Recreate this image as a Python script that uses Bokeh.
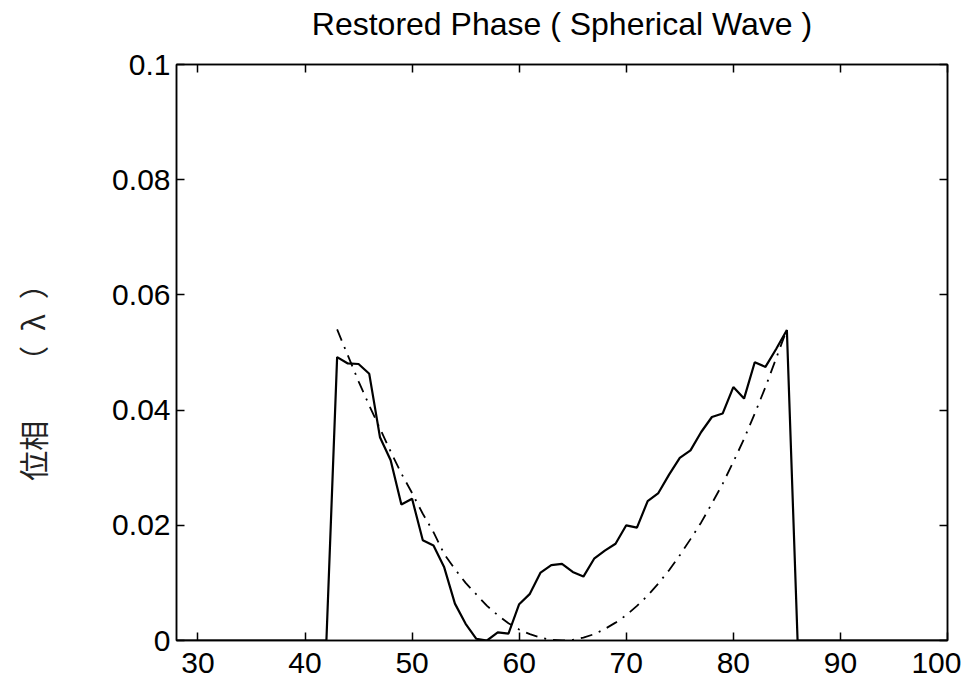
from bokeh.plotting import figure
from bokeh.models import Range1d, LinearAxis, FixedTicker
from bokeh.embed import file_html
from bokeh.resources import INLINE

# ---- data ----
x_ticks = [30, 40, 50, 60, 70, 80, 90, 100]
y_ticks = [0, 0.02, 0.04, 0.06, 0.08, 0.1]
y_tick_labels = ["0", "0.02", "0.04", "0.06", "0.08", "0.1"]

restored_x = [28, 42, 43, 44, 45, 46, 47, 48, 49, 50, 51, 52, 53, 54, 55, 56, 57,
              58, 59, 60, 61, 62, 63, 64, 65, 66, 67, 68, 69, 70, 71, 72, 73, 74,
              75, 76, 77, 78, 79, 80, 81, 82, 83, 84, 85, 86, 100]
restored_y = [0.0, 0.0, 0.0492, 0.0481, 0.0480, 0.0463, 0.0353, 0.0313, 0.0236,
              0.0246, 0.0174, 0.0165, 0.0127, 0.0064, 0.0029, 0.0003, 0.0, 0.0014,
              0.0012, 0.0063, 0.0081, 0.0118, 0.0131, 0.0133, 0.0119, 0.0111,
              0.0142, 0.0156, 0.0168, 0.0200, 0.0196, 0.0242, 0.0256, 0.0288,
              0.0317, 0.0330, 0.0362, 0.0388, 0.0394, 0.0440, 0.0420, 0.0483,
              0.0475, 0.0506, 0.0539, 0.0, 0.0]

ideal_x = [43, 44, 45, 46, 47, 48, 49, 50, 51, 52, 53, 54, 55, 56, 57, 58, 59, 60,
           61, 62, 63, 64, 65, 66, 67, 68, 69, 70, 71, 72, 73, 74, 75, 76, 77, 78,
           79, 80, 81, 82, 83, 84, 85]
ideal_y = [0.0540, 0.0495, 0.0450, 0.0408, 0.0368, 0.0328, 0.0290, 0.0256, 0.0220,
           0.0188, 0.0150, 0.0124, 0.0100, 0.0080, 0.0060, 0.0044, 0.0030, 0.0019,
           0.0011, 0.0005, 0.0001, 0.0000, 0.0001, 0.0005, 0.0011, 0.0020, 0.0031,
           0.0044, 0.0060, 0.0078, 0.0099, 0.0122, 0.0148, 0.0176, 0.0205, 0.0238,
           0.0272, 0.0310, 0.0350, 0.0394, 0.0440, 0.0490, 0.0540]

title_text = "Restored Phase ( Spherical Wave )"
y_label = "位相　\u2002（\u2002λ\u2002）　　"

FONT = "Liberation Sans"
TICK_SIZE = "30px"

p = figure(frame_width=771, frame_height=576,
           min_border_left=176, min_border_top=64, min_border_right=14, min_border_bottom=30,
           x_range=Range1d(28, 100), y_range=Range1d(0, 0.1),
           output_backend="svg", toolbar_location=None)
p.styles = {"margin-top": "-19px"}

p.title.text = title_text
p.title.align = "center"
p.title.vertical_align = "bottom"
p.title.text_font = FONT
p.title.text_font_size = "32px"
p.title.text_font_style = "normal"
p.title.text_color = "black"
p.title.standoff = 45

p.grid.visible = False
p.outline_line_color = "black"
p.outline_line_width = 1.5
p.background_fill_color = "white"
p.border_fill_color = "white"

p.line(restored_x, restored_y, line_color="black", line_width=2.2)
p.line(ideal_x, ideal_y, line_color="black", line_width=1.8, line_dash="12 7 2 7")

def style_axis(ax, show_labels=True):
    ax.major_tick_in = 8
    ax.major_tick_out = 0
    ax.minor_tick_line_color = None
    ax.axis_line_color = "black"
    ax.axis_line_width = 1.5
    ax.major_tick_line_color = "black"
    ax.major_tick_line_width = 1.5
    ax.major_label_text_font = FONT
    ax.major_label_text_font_size = TICK_SIZE
    ax.major_label_text_color = "black" if show_labels else None

xa = p.xaxis[0]
xa.ticker = FixedTicker(ticks=x_ticks)
style_axis(xa)
xa.major_label_standoff = 12
xa.major_label_text_line_height = 1.0

ya = p.yaxis[0]
ya.ticker = FixedTicker(ticks=y_ticks)
ya.major_label_overrides = {t: s for t, s in zip(y_ticks, y_tick_labels)}
style_axis(ya)
ya.major_label_standoff = 6
ya.axis_label = y_label
ya.axis_label_text_font = "Noto Sans CJK JP"
ya.axis_label_text_font_size = "30px"
ya.axis_label_text_font_style = "normal"
ya.axis_label_text_color = "#222222"
ya.axis_label_standoff = 55

top = LinearAxis(ticker=FixedTicker(ticks=x_ticks))
style_axis(top, show_labels=False)
top.major_label_text_font_size = "0px"
top.major_label_standoff = 0
p.add_layout(top, "above")

right = LinearAxis(ticker=FixedTicker(ticks=y_ticks))
style_axis(right, show_labels=False)
right.major_label_text_font_size = "0px"
right.major_label_standoff = 0
p.add_layout(right, "right")

open("out.html", "w").write(file_html(p, INLINE))
